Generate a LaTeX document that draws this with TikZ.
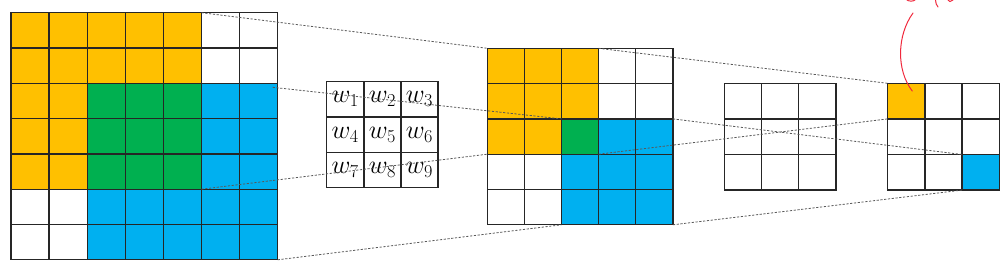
\RequirePackage{fix-cm}
\documentclass[tikz,border=0pt]{standalone}
\usepackage{amsmath}
\usetikzlibrary{calc}
\definecolor{cellyellow}{HTML}{FFC000}
\definecolor{cellgreen}{HTML}{00B050}
\definecolor{cellblue}{HTML}{00B0F0}
\definecolor{inkred}{HTML}{F0283C}

\begin{document}
\begin{tikzpicture}[
    x=1pt, y=-1pt,
    cell/.style={draw=black!85, line width=1.3pt, inner sep=0pt, outer sep=0pt, minimum height=35.3pt},
    widecell/.style={cell, minimum width=38.1pt},
    narrowcell/.style={cell, minimum width=37.2pt},
    guide/.style={draw=black!65, line width=0.8pt, dash pattern=on 2.2pt off 1.6pt},
    ink/.style={draw=inkred, line width=1pt, line cap=round}
]
\useasboundingbox (0,0) rectangle (1008,262);

\foreach \row [count=\r from 0] in {
    {cellyellow,cellyellow,cellyellow,cellyellow,cellyellow,white,white},
    {cellyellow,cellyellow,cellyellow,cellyellow,cellyellow,white,white},
    {cellyellow,cellyellow,cellgreen,cellgreen,cellgreen,cellblue,cellblue},
    {cellyellow,cellyellow,cellgreen,cellgreen,cellgreen,cellblue,cellblue},
    {cellyellow,cellyellow,cellgreen,cellgreen,cellgreen,cellblue,cellblue},
    {white,white,cellblue,cellblue,cellblue,cellblue,cellblue},
    {white,white,cellblue,cellblue,cellblue,cellblue,cellblue}}
  \foreach \col [count=\c from 0] in \row
    \node[widecell, fill=\col] (in-\r-\c) at ({11+38.1*(\c+0.5)}, {12.7+35.3*(\r+0.5)}) {};

\foreach \r in {0,1,2}
  \foreach \c in {0,1,2} {
    \pgfmathtruncatemacro{\w}{3*\r+\c+1}
    \node[narrowcell, font=\fontsize{26}{28}\selectfont] (ker-\r-\c) at ({326.7+37.1*(\c+0.5)}, {81.7+35.3*(\r+0.5)}) {$w_{\w}$};
  }

\foreach \row [count=\r from 0] in {
    {cellyellow,cellyellow,cellyellow,white,white},
    {cellyellow,cellyellow,cellyellow,white,white},
    {cellyellow,cellyellow,cellgreen,cellblue,cellblue},
    {white,white,cellblue,cellblue,cellblue},
    {white,white,cellblue,cellblue,cellblue}}
  \foreach \col [count=\c from 0] in \row
    \node[narrowcell, fill=\col] (mid-\r-\c) at ({487.3+37.1*(\c+0.5)}, {48.3+35.3*(\r+0.5)}) {};

\foreach \r in {0,1,2}
  \foreach \c in {0,1,2}
    \node[narrowcell, minimum height=35.6pt] (pool-\r-\c) at ({724.3+37.2*(\c+0.5)}, {83.3+35.6*(\r+0.5)}) {};

\foreach \row [count=\r from 0] in {
    {cellyellow,white,white},
    {white,white,white},
    {white,white,cellblue}}
  \foreach \col [count=\c from 0] in \row
    \node[narrowcell, minimum height=35.6pt, fill=\col] (out-\r-\c) at ({887.7+37.2*(\c+0.5)}, {83.3+35.6*(\r+0.5)}) {};

\draw[guide] (in-0-5.north west) -- (mid-0-0.north west);
\draw[guide] ($(in-2-6.north east)+(-5,4)$) -- (mid-2-2.north west);
\draw[guide] (in-5-5.north west) -- (mid-3-0.north west);
\draw[guide] (in-6-6.south east) -- (mid-4-2.south west);
\draw[guide] (mid-0-3.north west) -- (out-0-0.north west);
\draw[guide] (mid-2-4.north east) -- (out-2-2.north west);
\draw[guide] (mid-3-3.north west) -- (out-1-0.north west);
\draw[guide] (mid-4-4.south east) -- (out-2-2.south west);

\coordinate (tail) at ($(out-0-0.center)+(6,-10)$);
\draw[ink] (tail) .. controls (896,70) and (897,35) .. (913,13);
\draw[ink] (907,0) .. controls (909,1.5) and (913,1.5) .. (915,0);
\draw[ink] (935.5,0) .. controls (935.5,3) and (936.5,5) .. (938,7);
\draw[ink] (948,0) .. controls (948.5,2) and (951,2) .. (953,0);
\end{tikzpicture}
\end{document}
